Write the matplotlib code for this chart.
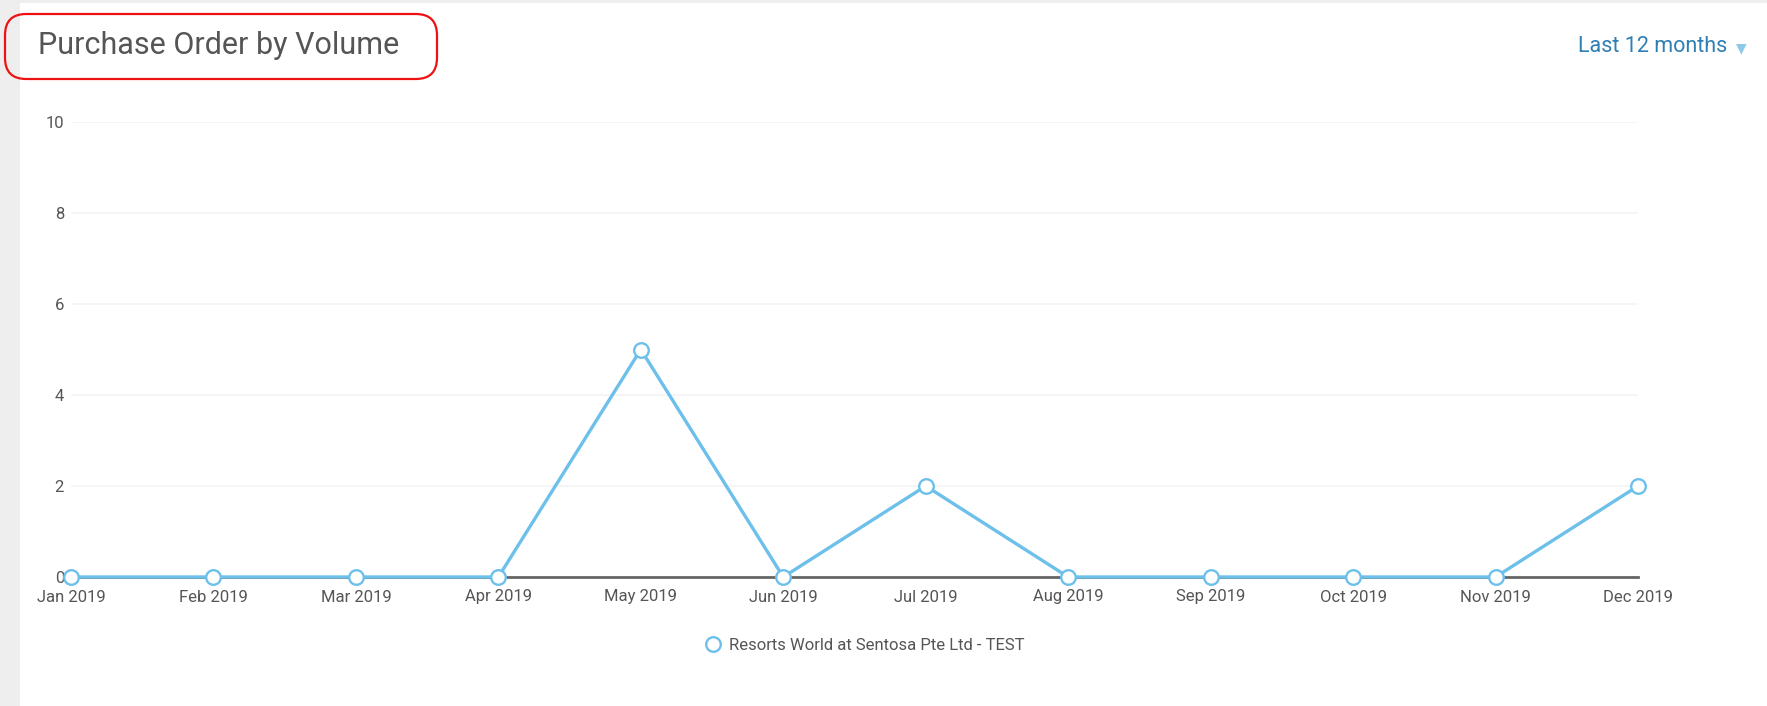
import matplotlib
matplotlib.use('Agg')
import matplotlib.pyplot as plt
from matplotlib.patches import FancyBboxPatch, Rectangle

plt.rcParams['font.family'] = ['Roboto', 'DejaVu Sans']

months = ['Jan 2019', 'Feb 2019', 'Mar 2019', 'Apr 2019', 'May 2019', 'Jun 2019',
          'Jul 2019', 'Aug 2019', 'Sep 2019', 'Oct 2019', 'Nov 2019', 'Dec 2019']
volume = [0, 0, 0, 0, 5, 0, 2, 0, 0, 0, 0, 2]
yticks = [0, 2, 4, 6, 8, 10]
series_name = 'Resorts World at Sentosa Pte Ltd - TEST'

W, H = 1767, 706
fig = plt.figure(figsize=(W / 100, H / 100), dpi=100)
fig.patch.set_facecolor('white')

# page chrome: grey strips on left and top
fig.add_artist(Rectangle((0, 0), 20 / W, 1, transform=fig.transFigure,
                         facecolor='#eeeeee', edgecolor='none', zorder=0))
fig.add_artist(Rectangle((0, 1 - 3 / H), 1, 3 / H, transform=fig.transFigure,
                         facecolor='#eeeeee', edgecolor='none', zorder=0))

# red rounded box around the title
fig.add_artist(FancyBboxPatch((5 / W, 1 - 79 / H), 432 / W, 65 / H,
                              boxstyle='round,pad=0,rounding_size=0.012',
                              transform=fig.transFigure, facecolor='none',
                              edgecolor='#ee1111', linewidth=1.6, zorder=5,
                              mutation_aspect=W / H))

fig.text(38 / W, 1 - 46 / H, 'Purchase Order by Volume', fontsize=22,
         color='#555555', ha='left', va='center')
fig.text(1727 / W, 1 - 47 / H, 'Last 12 months', fontsize=15.5,
         color='#2f7fb5', ha='right', va='center')
fig.text(1741 / W, 1 - 48 / H, '\u25BC', fontsize=10, color='#8ec8ea',
         ha='center', va='center', family='DejaVu Sans')

ax = fig.add_axes([71 / W, (H - 577) / H, (1638 - 71) / W, (577 - 122) / H])
x = list(range(len(months)))
ax.plot(x, volume, color='#6cc0ea', linewidth=2.4, marker='o', markersize=10.5,
        markerfacecolor='white', markeredgecolor='#6cc0ea', markeredgewidth=1.7,
        clip_on=False, zorder=4, label=series_name)

ax.set_xlim(0, len(months) - 1)
ax.set_ylim(0, 10)
ax.set_xticks(x)
ax.set_xticklabels(months)
ax.set_yticks(yticks)
ax.tick_params(axis='both', length=0, labelsize=12, labelcolor='#555555')
ax.tick_params(axis='x', pad=9)
ax.tick_params(axis='y', pad=5)
for s in ['top', 'right', 'left']:
    ax.spines[s].set_visible(False)
ax.spines['bottom'].set_color('#666666')
ax.spines['bottom'].set_linewidth(2)
ax.grid(axis='y', color='#f3f3f3', linewidth=1.2)
ax.set_axisbelow(True)

leg = ax.legend(loc='center', bbox_to_anchor=(0.507, (577 - 645) / (577 - 122)),
                frameon=False, fontsize=12, handlelength=0.8, handletextpad=0.6,
                labelcolor='#555555')
for h in leg.legend_handles:
    h.set_linestyle('none')

fig.savefig('out.png', dpi=100)
